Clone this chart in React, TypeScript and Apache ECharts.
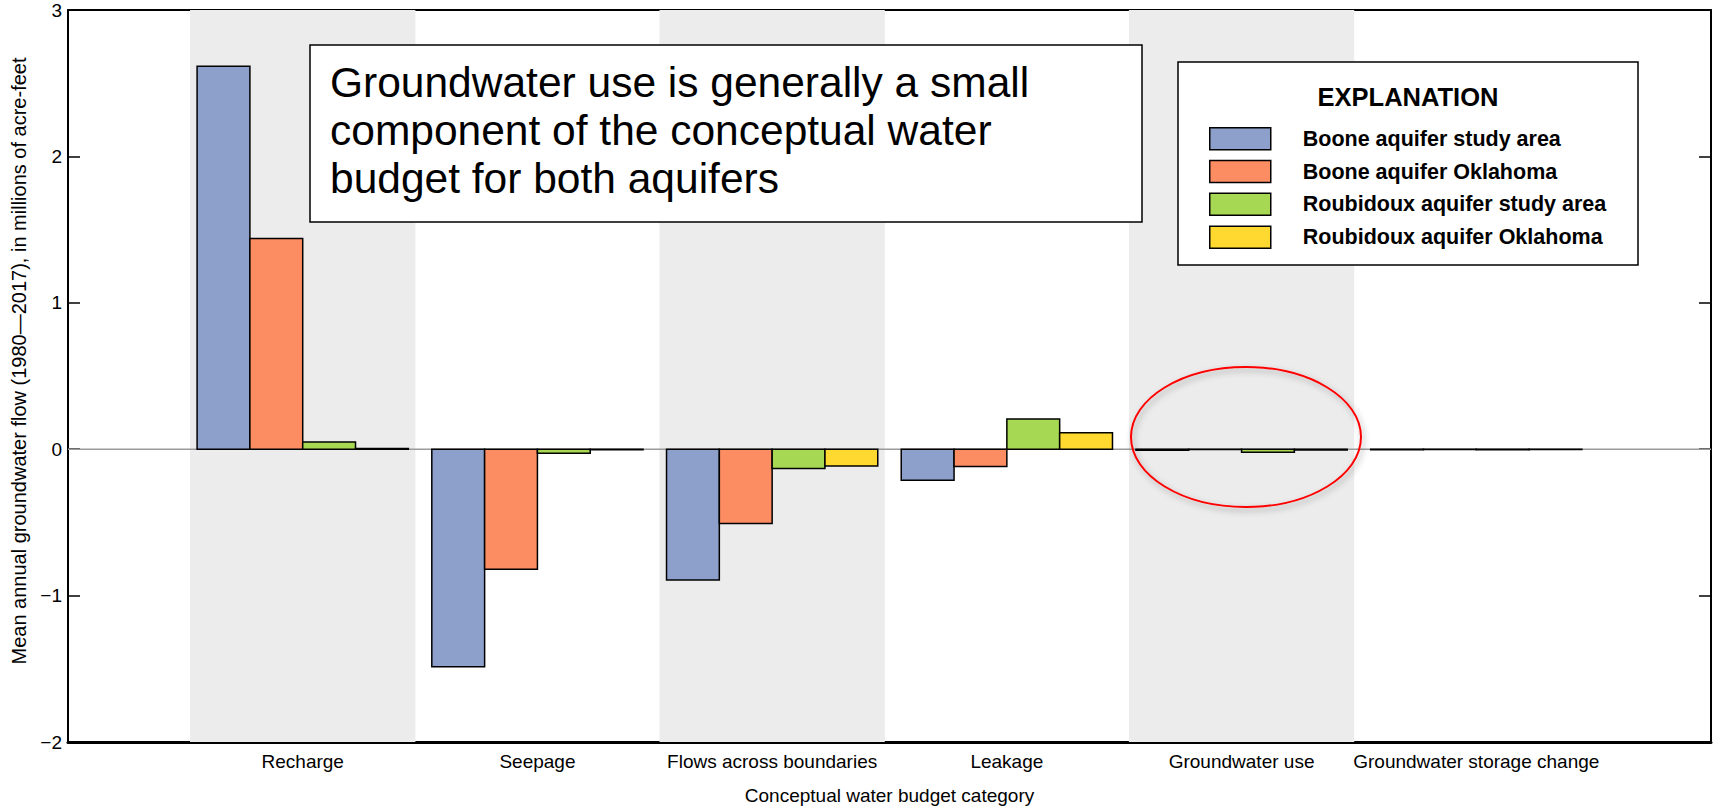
import React, { useEffect, useRef } from "react";
import * as echarts from "echarts";

const categories = [
  "Recharge",
  "Seepage",
  "Flows across boundaries",
  "Leakage",
  "Groundwater use",
  "Groundwater storage change",
];
const seriesNames = [
  "Boone aquifer study area",
  "Boone aquifer Oklahoma",
  "Roubidoux aquifer study area",
  "Roubidoux aquifer Oklahoma",
];
const booneStudyArea = [2.615, -1.486, -0.894, -0.212, -0.008, -0.003];
const booneOklahoma = [1.44, -0.82, -0.507, -0.118, -0.002, -0.002];
const roubidouxStudyArea = [0.05, -0.027, -0.132, 0.207, -0.02, -0.003];
const roubidouxOklahoma = [0.004, -0.003, -0.114, 0.113, -0.006, -0.002];
const shadedCategories = [1, 3, 5];
const colors = ["#8da0cb", "#fc8d62", "#a6d854", "#ffd92f"];
const Y_MIN = -2;
const Y_MAX = 3;
const Y_INTERVAL = 1;
const X_MIN = 0;
const X_MAX = categories.length + 1;

const SANS = '"Liberation Sans", Arial, sans-serif';
const GROUP = 0.9;
const BAND = 0.96;

export default function App() {
  const ref = useRef<HTMLDivElement>(null);
  useEffect(() => {
    document.body.style.margin = "0";
    document.body.style.overflow = "hidden";
    const chart = echarts.init(ref.current!, null, { renderer: "svg" });
    const allValues = [booneStudyArea, booneOklahoma, roubidouxStudyArea, roubidouxOklahoma];
    const bw = GROUP / allValues.length;

    const barSeries = allValues.map((vals, k) => ({
      type: "custom",
      name: seriesNames[k],
      z: 5,
      itemStyle: { color: colors[k], borderColor: "#000", borderWidth: 1.5 },
      encode: { x: 0, y: 1 },
      data: vals.map((v, i) => [i + 1, v]),
      renderItem: (params: any, api: any) => {
        const x = api.value(0);
        const v = api.value(1);
        const p0 = api.coord([x - GROUP / 2 + k * bw, v]);
        const p1 = api.coord([x - GROUP / 2 + (k + 1) * bw, 0]);
        return {
          type: "rect",
          shape: {
            x: Math.min(p0[0], p1[0]),
            y: Math.min(p0[1], p1[1]),
            width: Math.abs(p1[0] - p0[0]),
            height: Math.max(Math.abs(p1[1] - p0[1]), 0.3),
          },
          style: { fill: colors[k], stroke: "#000", lineWidth: 1.5 },
        };
      },
    }));

    const option: any = {
      animation: false,
      grid: { left: 68, right: 2, top: 10, bottom: 69 },
      xAxis: [
        {
          type: "value",
          min: X_MIN,
          max: X_MAX,
          interval: 1,
          position: "bottom",
          axisLine: { show: true, onZero: false, lineStyle: { color: "#000", width: 3 } },
          axisTick: { show: false },
          splitLine: { show: false },
          axisLabel: {
            margin: 10,
            fontFamily: SANS,
            fontSize: 19,
            color: "#000",
            formatter: (v: number) => categories[v - 1] || "",
          },
          name: "Conceptual water budget category",
          nameLocation: "middle",
          nameGap: 44,
          nameTextStyle: { fontFamily: SANS, fontSize: 19, color: "#000" },
        },
        {
          type: "value",
          min: X_MIN,
          max: X_MAX,
          position: "top",
          axisLine: { show: true, onZero: false, lineStyle: { color: "#000", width: 2 } },
          axisTick: { show: false },
          axisLabel: { show: false },
          splitLine: { show: false },
        },
      ],
      yAxis: [
        {
          type: "value",
          min: Y_MIN,
          max: Y_MAX,
          interval: Y_INTERVAL,
          position: "left",
          axisLine: { show: true, onZero: false, lineStyle: { color: "#000", width: 2 } },
          axisTick: { show: true, inside: true, length: 12, lineStyle: { color: "#000", width: 1.5 } },
          splitLine: { show: false },
          axisLabel: {
            margin: 6,
            fontFamily: SANS,
            fontSize: 19,
            color: "#000",
            formatter: (v: number) => (v < 0 ? "\u2212" + Math.abs(v) : String(v)),
          },
          name: "Mean annual groundwater flow (1980\u20142017), in millions of acre-feet",
          nameLocation: "middle",
          nameRotate: 90,
          nameGap: 37,
          nameTextStyle: {
            fontFamily: SANS,
            fontSize: 20,
            color: "#000",
            padding: [0, 0, 0, 30],
          },
        },
        {
          type: "value",
          min: Y_MIN,
          max: Y_MAX,
          interval: Y_INTERVAL,
          position: "right",
          axisLine: { show: true, onZero: false, lineStyle: { color: "#000", width: 2 } },
          axisTick: { show: true, inside: true, length: 12, lineStyle: { color: "#000", width: 1.5 } },
          axisLabel: { show: false },
          splitLine: { show: false },
        },
      ],
      legend: {
        z: 20,
        left: 1209,
        top: 127,
        padding: 0,
        orient: "vertical",
        itemWidth: 61,
        itemHeight: 22,
        itemGap: 9.3,
        icon: "rect",
        textStyle: {
          fontFamily: SANS,
          fontWeight: "bold",
          fontSize: 21.5,
          lineHeight: 22,
          color: "#000",
          padding: [0, 0, 0, 27],
        },
        data: seriesNames.map((n, k) => ({
          name: n,
          itemStyle: { color: colors[k], borderColor: "#000", borderWidth: 1.5 },
        })),
      },
      series: [
        {
          type: "custom",
          name: "bands",
          z: 1,
          silent: true,
          encode: { x: 0, y: 1 },
          data: shadedCategories.map((c) => [c, 0]),
          renderItem: (params: any, api: any) => {
            const x = api.value(0);
            const p0 = api.coord([x - BAND / 2, Y_MAX]);
            const p1 = api.coord([x + BAND / 2, Y_MIN]);
            return {
              type: "rect",
              shape: { x: p0[0], y: p0[1], width: p1[0] - p0[0], height: p1[1] - p0[1] },
              style: { fill: "#ececec" },
            };
          },
        },
        {
          type: "custom",
          name: "zero",
          z: 2,
          silent: true,
          encode: { x: 0, y: 1 },
          data: [[X_MIN, 0]],
          renderItem: (params: any, api: any) => {
            const p0 = api.coord([X_MIN, 0]);
            const p1 = api.coord([X_MAX, 0]);
            return {
              type: "line",
              shape: { x1: p0[0], y1: p0[1], x2: p1[0], y2: p1[1] },
              style: { stroke: "#9a9a9a", lineWidth: 1.5 },
            };
          },
        },
        ...barSeries,
      ],
      graphic: [
        {
          type: "rect",
          z: 8,
          shape: { x: 310, y: 45, width: 832, height: 177 },
          style: { fill: "#fff", stroke: "#000", lineWidth: 1.5 },
        },
        {
          type: "text",
          z: 9,
          x: 330,
          y: 58,
          style: {
            text: "Groundwater use is generally a small\ncomponent of the conceptual water\nbudget for both aquifers",
            font: '42.5px ' + SANS,
            lineHeight: 48,
            fill: "#000",
            verticalAlign: "top",
          },
        },
        {
          type: "rect",
          z: 8,
          shape: { x: 1178, y: 62, width: 460, height: 203 },
          style: { fill: "#fff", stroke: "#000", lineWidth: 1.5 },
        },
        {
          type: "text",
          z: 9,
          x: 1408,
          y: 97,
          style: {
            text: "EXPLANATION",
            font: 'bold 25.5px ' + SANS,
            fill: "#000",
            align: "center",
            verticalAlign: "middle",
          },
        },
        {
          type: "ellipse",
          z: 9,
          shape: { cx: 1246, cy: 437, rx: 115, ry: 70 },
          style: {
            fill: "none",
            stroke: "#ff0000",
            lineWidth: 2,
            shadowBlur: 6,
            shadowColor: "rgba(0,0,0,0.35)",
            shadowOffsetX: 2,
            shadowOffsetY: 3,
          },
        },
      ],
    };
    chart.setOption(option);
    return () => chart.dispose();
  }, []);
  return <div ref={ref} style={{ width: 1714, height: 811 }} />;
}
